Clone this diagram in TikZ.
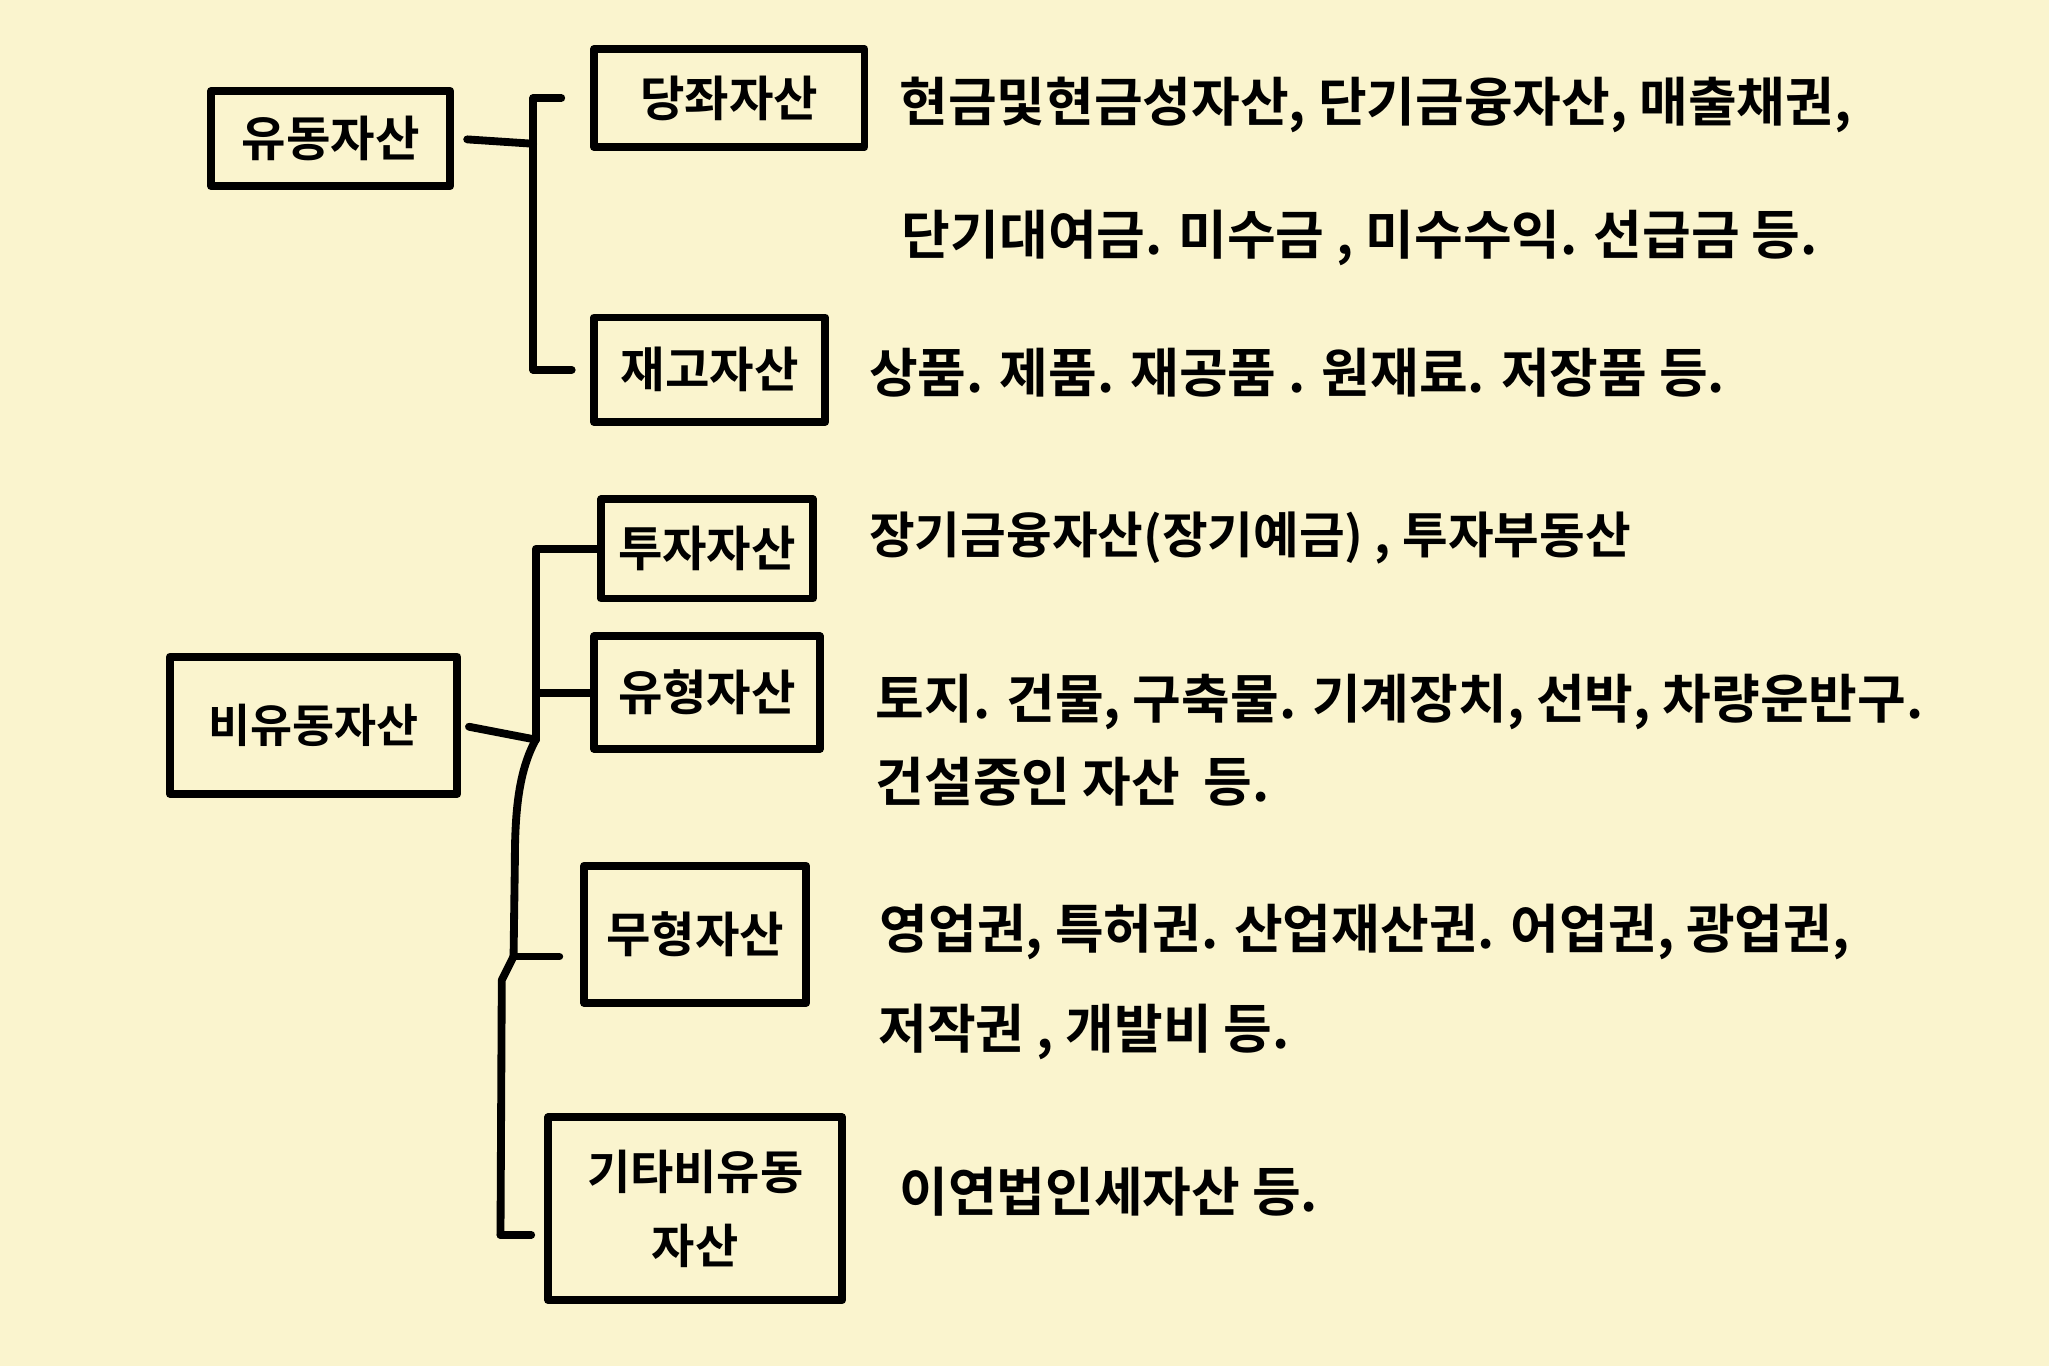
\documentclass[tikz,border=0pt]{standalone}
\usepackage{fontspec}
\newfontfamily\kr{Noto Sans CJK KR}[BoldFont={Noto Sans CJK KR Bold}]
\definecolor{paper}{RGB}{250,244,206}
\begin{document}
\begin{tikzpicture}[x=1pt,y=-1pt,
  box/.style={draw, line width=6pt, line join=round, inner sep=0pt, align=center,
    font=\kr\bfseries\fontsize{37}{44}\selectfont},
  conn/.style={line width=6pt, line cap=round, line join=round},
  desc/.style={anchor=west, inner sep=0pt, font=\kr\bfseries\fontsize{40.5}{46}\selectfont}]
\fill[paper] (0,0) rectangle (1568,1045);
\useasboundingbox (0,0) rectangle (1568,1045);

% boxes
\node[box, minimum width=183, minimum height=73]  (A) at (253,106) {유동자산};
\node[box, minimum width=207, minimum height=75]  (B) at (558,75)  {당좌자산};
\node[box, minimum width=177, minimum height=80]  (C) at (543,283) {재고자산};
\node[box, minimum width=220, minimum height=105, font=\kr\bfseries\fontsize{35}{42}\selectfont] (E) at (240,555) {비유동자산};
\node[box, minimum width=162, minimum height=76]  (F) at (541,420) {투자자산};
\node[box, minimum width=173, minimum height=86]  (G) at (541,530) {유형자산};
\node[box, minimum width=170, minimum height=105] (H) at (532,715) {무형자산};
\node[box, minimum width=225, minimum height=140, font=\kr\bfseries\fontsize{36}{56}\selectfont] (I) at (532,925) {기타비유동\\자산};

% descriptions
\node[desc] (d1a) at (688,80)  {현금및현금성자산, 단기금융자산, 매출채권,};
\node[desc] (d1b) at (690,182) {단기대여금. 미수금 , 미수수익. 선급금 등.};
\node[desc] (d2)  at (665,285) {상품. 제품. 재공품 . 원재료. 저장품 등.};
\node[desc, font=\kr\bfseries\fontsize{38}{46}\selectfont] (d3)  at (665,412) {장기금융자산(장기예금) , 투자부동산};
\node[desc] (d4a) at (670,537) {토지. 건물, 구축물. 기계장치, 선박, 차량운반구.};
\node[desc] (d4b) at (670,598) {건설중인 자산\ \ 등.};
\node[desc] (d5a) at (673,713) {영업권, 특허권. 산업재산권. 어업권, 광업권,};
\node[desc] (d5b) at (672,790) {저작권 , 개발비 등.};
\node[desc] (d6)  at (688,912) {이연법인세자산 등.};

% connectors, current assets
\coordinate (jA) at (408,110);
\draw[conn, shorten <=10pt] (A.east) -- (jA);
\draw[conn, shorten >=22pt] (jA) |- (B.west);
\draw[conn, shorten >=14pt] (jA) |- (C.west);

% connectors, non-current assets
\coordinate (jE) at (410,566);
\coordinate (jH) at (393,732);
\coordinate (jI) at (383,945);
\draw[conn, shorten <=6pt] (E.east) -- (jE);
\draw[conn] (jE) |- (F.west);
\draw[conn] (jE) |- (G.west);
\draw[conn] (jE) .. controls (397,590) and (394,620) .. (394,660) -- (jH);
\draw[conn, shorten >=16pt] (jH) -- (H.west |- jH);
\draw[conn] (jH) -- (384,750) -- (jI);
\draw[conn, shorten >=10pt] (jI) -- (I.west |- jI);
\end{tikzpicture}
\end{document}
